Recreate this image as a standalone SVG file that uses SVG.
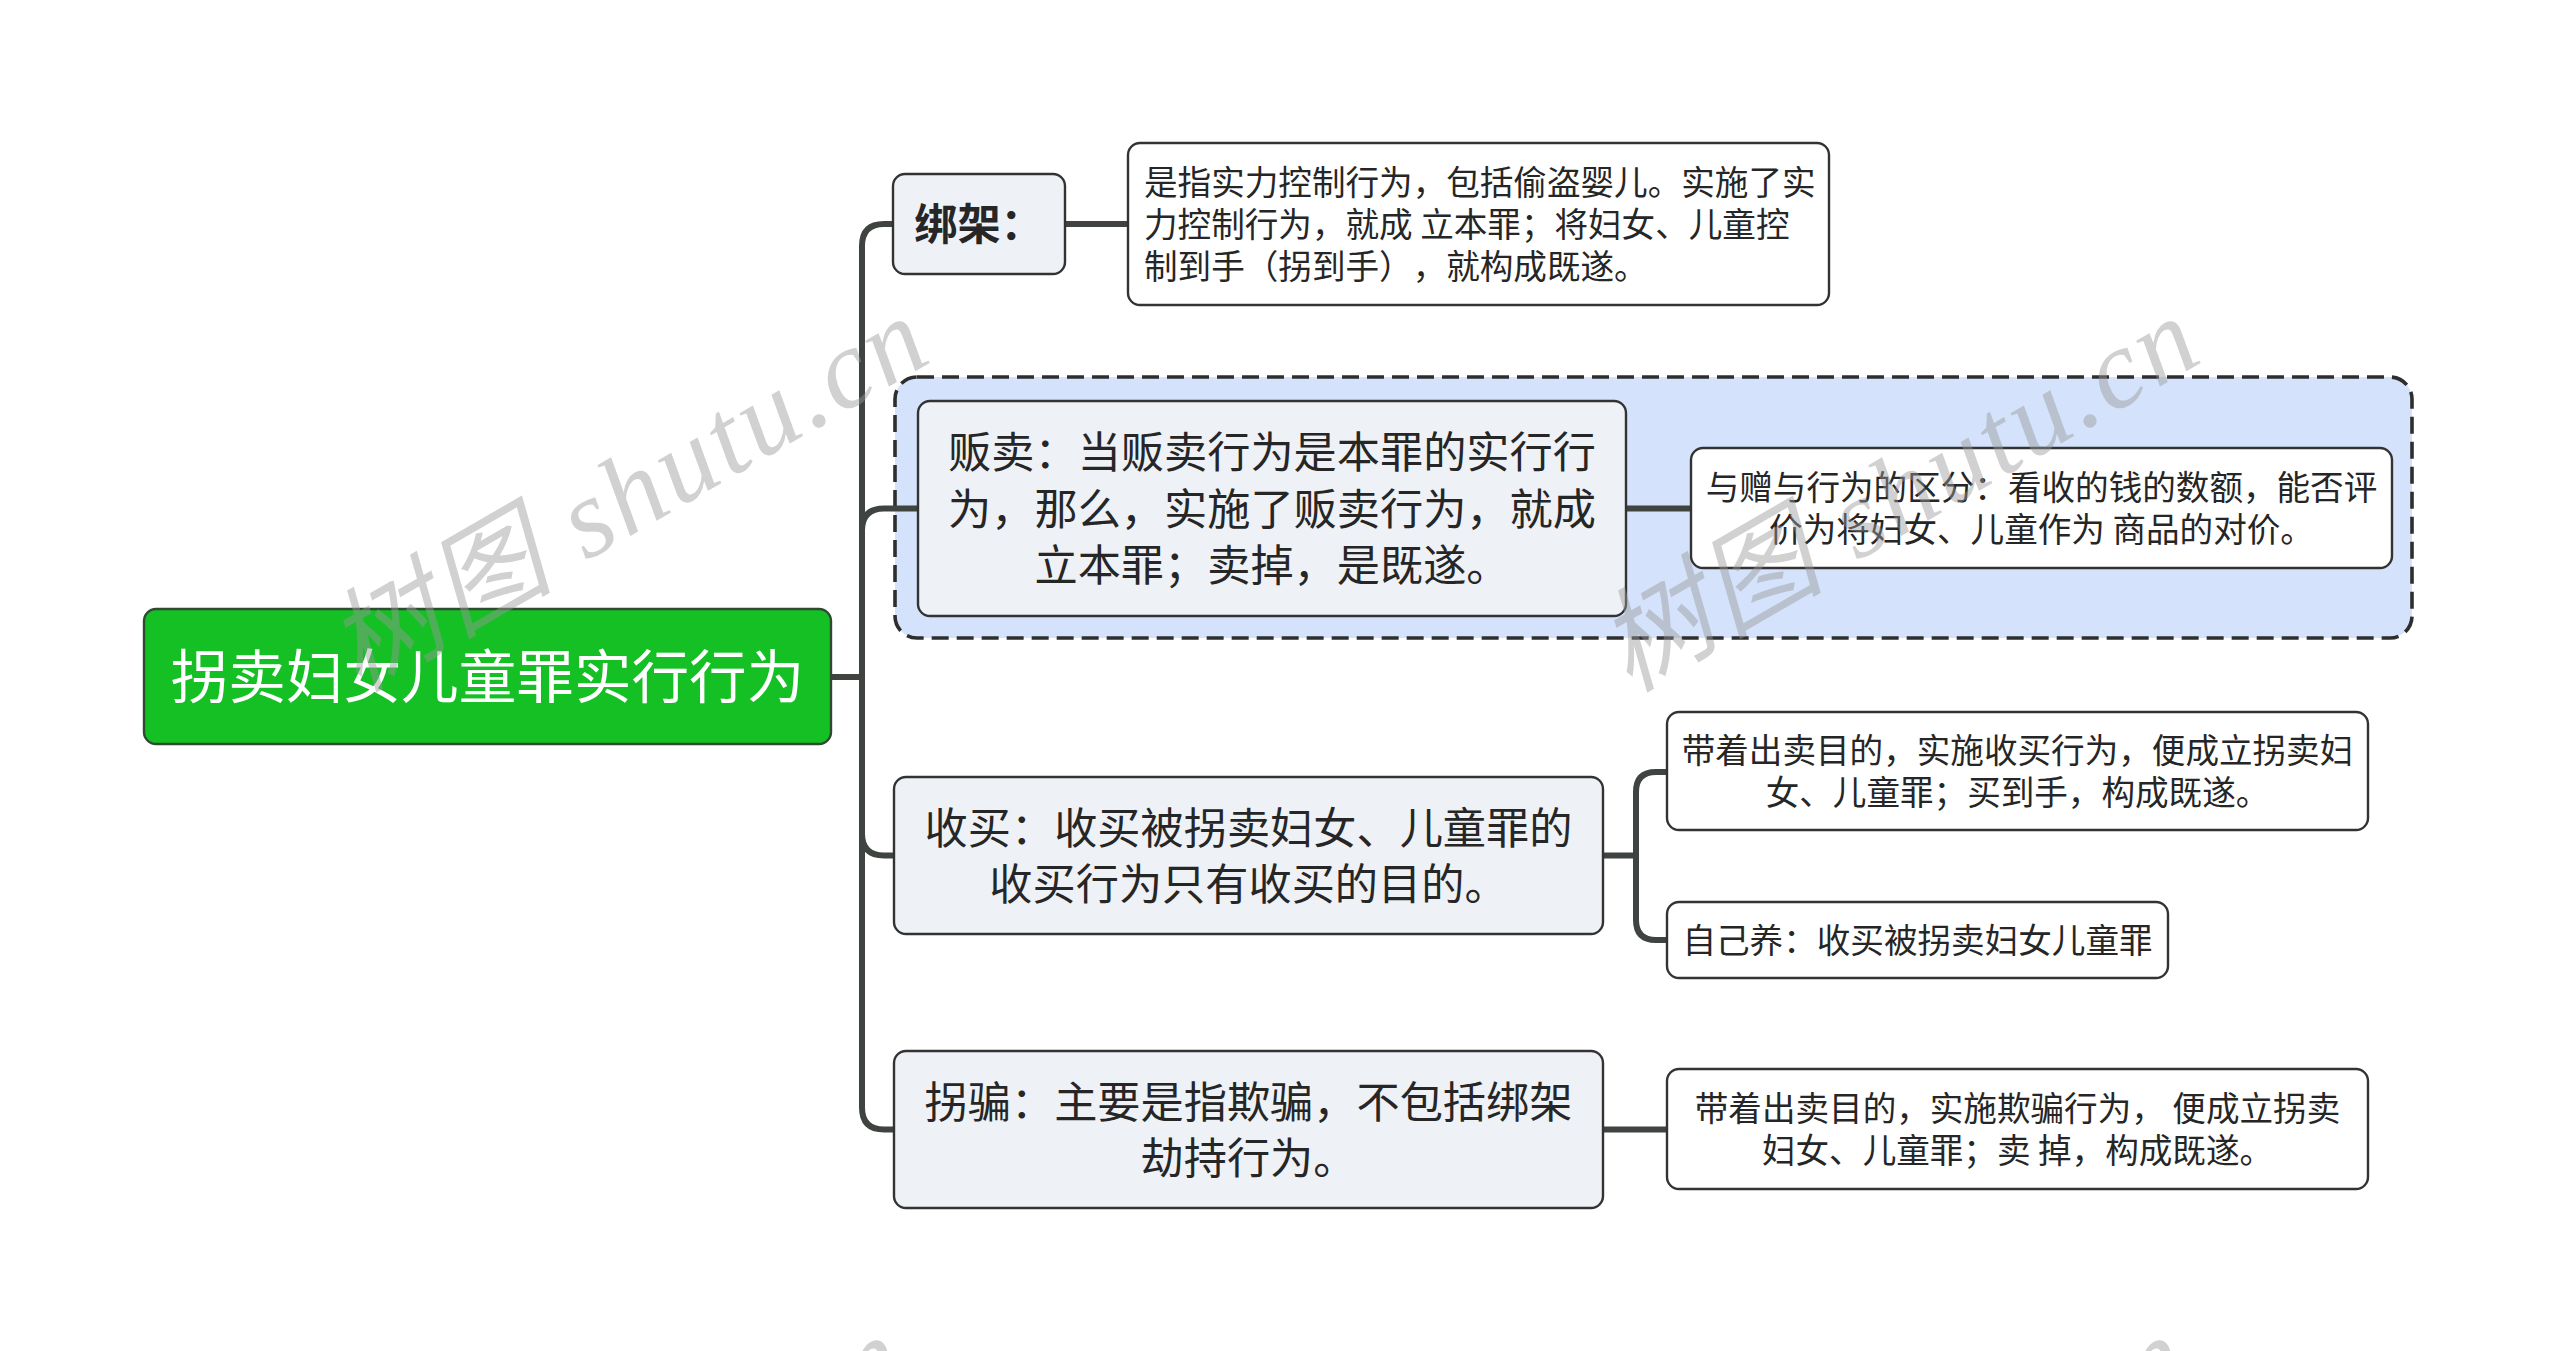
<svg xmlns="http://www.w3.org/2000/svg" width="2560" height="1351" viewBox="0 0 2560 1351">
<style>
.conn{fill:none;stroke:#3f4440;stroke-width:6;stroke-linecap:round;stroke-linejoin:round}
.n1{fill:#eef1f5;stroke:#333;stroke-width:2.4}
.n2{fill:#ffffff;stroke:#333;stroke-width:2.4}
.t{font-family:"Noto Sans CJK SC","Noto Sans",sans-serif;fill:#262626;text-spacing-trim:space-all}
.t1{font-size:43.2px}
.t2{font-size:33.6px}
.c{text-anchor:middle}
.wm{font-family:"Liberation Serif","Noto Sans CJK SC",serif;font-style:italic;font-size:112px;fill:#9a9a9a;opacity:0.45}
</style>
<rect width="2560" height="1351" fill="#ffffff"/>
<g id="boundary">
<rect x="895" y="377" width="1517" height="261" rx="22" fill="#d4e3fb" stroke="#2e2e2e" stroke-width="3.6" stroke-dasharray="17 8"/>
</g>
<g id="connectors">
<path class="conn" d="M831 677 H862"/>
<path class="conn" d="M862 677 V246 Q862 224 884 224 H893"/>
<path class="conn" d="M862 677 V530.5 Q862 508.5 884 508.5 H918"/>
<path class="conn" d="M862 677 V833.5 Q862 855.5 884 855.5 H894"/>
<path class="conn" d="M862 677 V1107.5 Q862 1129.5 884 1129.5 H894"/>
<path class="conn" d="M1065 224 H1128"/>
<path class="conn" d="M1626 508.5 H1691"/>
<path class="conn" d="M1603 855.5 H1636"/>
<path class="conn" d="M1636 855.5 V792 Q1636 772 1656 772 H1667"/>
<path class="conn" d="M1636 855.5 V920 Q1636 940 1656 940 H1667"/>
<path class="conn" d="M1603 1129.5 H1667"/>
</g>
<g id="root">
<rect x="144" y="609" width="687" height="135" rx="12" fill="#14c024" stroke="#2f4a30" stroke-width="2.4"/>
<text class="t c" x="487.5" y="698.4" style="font-size:57.6px;fill:#ffffff">拐卖妇女儿童罪实行行为</text>
</g>
<g id="node-bangjia">
<rect class="n1" x="893" y="174" width="172" height="100" rx="12"/>
<text class="t t1 c" x="979" y="240.4" style="font-weight:bold">绑架：</text>
</g>
<g id="node-bangjia-desc">
<rect class="n2" x="1128" y="143" width="701" height="162" rx="12"/>
<text class="t t2" x="1144" y="194.8">是指实力控制行为，包括偷盗婴儿。实施了实</text>
<text class="t t2" x="1144" y="236.8">力控制行为，就成 立本罪；将妇女、儿童控</text>
<text class="t t2" x="1144" y="278.8">制到手（拐到手），就构成既遂。</text>
</g>
<g id="node-fanmai">
<rect class="n1" x="918" y="401" width="708" height="215" rx="12"/>
<text class="t t1 c" x="1272" y="468.4">贩卖：当贩卖行为是本罪的实行行</text>
<text class="t t1 c" x="1272" y="524.9">为，那么，实施了贩卖行为，就成</text>
<text class="t t1 c" x="1272" y="581.4">立本罪；卖掉，是既遂。</text>
</g>
<g id="node-fanmai-desc">
<rect class="n2" x="1691" y="448" width="701" height="120" rx="12"/>
<text class="t t2 c" x="2041.5" y="499.8">与赠与行为的区分：看收的钱的数额，能否评</text>
<text class="t t2 c" x="2041.5" y="541.8">价为将妇女、儿童作为 商品的对价。</text>
</g>
<g id="node-shoumai">
<rect class="n1" x="894" y="777" width="709" height="157" rx="12"/>
<text class="t t1 c" x="1248.5" y="843.7">收买：收买被拐卖妇女、儿童罪的</text>
<text class="t t1 c" x="1248.5" y="900.1">收买行为只有收买的目的。</text>
</g>
<g id="node-shoumai-sell">
<rect class="n2" x="1667" y="712" width="701" height="118" rx="12"/>
<text class="t t2 c" x="2017.5" y="762.8">带着出卖目的，实施收买行为，便成立拐卖妇</text>
<text class="t t2 c" x="2017.5" y="804.8">女、儿童罪；买到手，构成既遂。</text>
</g>
<g id="node-shoumai-keep">
<rect class="n2" x="1667" y="902" width="501" height="76" rx="12"/>
<text class="t t2 c" x="1917.5" y="952.8">自己养：收买被拐卖妇女儿童罪</text>
</g>
<g id="node-guaipian">
<rect class="n1" x="894" y="1051" width="709" height="157" rx="12"/>
<text class="t t1 c" x="1248.5" y="1117.7">拐骗：主要是指欺骗，不包括绑架</text>
<text class="t t1 c" x="1248.5" y="1174.1">劫持行为。</text>
</g>
<g id="node-guaipian-desc">
<rect class="n2" x="1667" y="1069" width="701" height="120" rx="12"/>
<text class="t t2 c" x="2017.5" y="1120.8">带着出卖目的，实施欺骗行为， 便成立拐卖</text>
<text class="t t2 c" x="2017.5" y="1162.8">妇女、儿童罪；卖 掉，构成既遂。</text>
</g>
<g id="watermarks">
<text class="wm" x="358" y="693" transform="rotate(-30 358 693)" textLength="665" lengthAdjust="spacing">树图 shutu.cn</text>
<text class="wm" x="1629" y="693" transform="rotate(-30 1629 693)" textLength="665" lengthAdjust="spacing">树图 shutu.cn</text>
<text class="wm" x="335" y="1712" transform="rotate(-30 335 1712)" textLength="665" lengthAdjust="spacing">树图 shutu.cn</text>
<text class="wm" x="1618" y="1712" transform="rotate(-30 1618 1712)" textLength="665" lengthAdjust="spacing">树图 shutu.cn</text>
</g>
</svg>
